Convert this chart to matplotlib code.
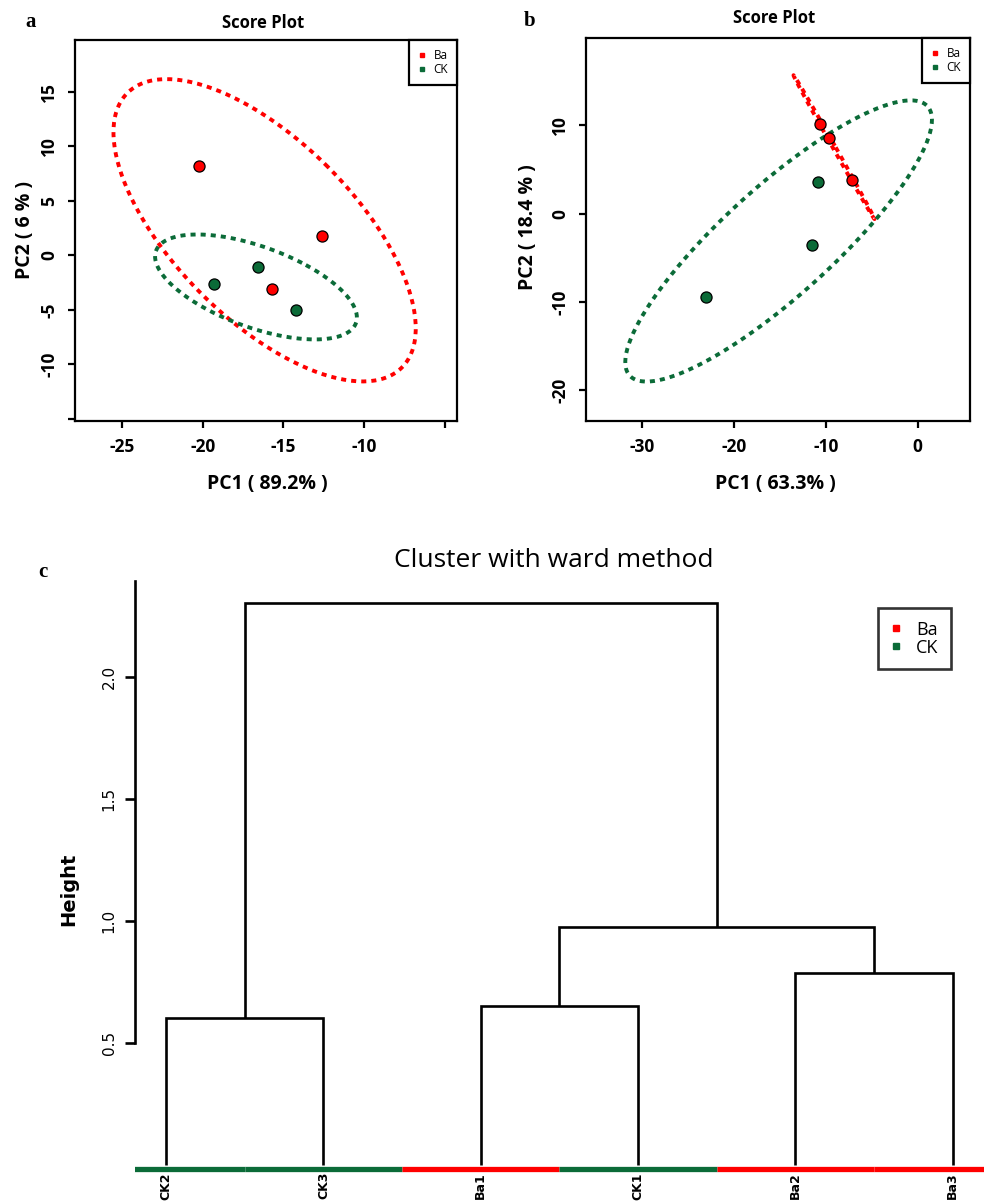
import numpy as np
import matplotlib
matplotlib.use("Agg")
import matplotlib.pyplot as plt
from matplotlib.lines import Line2D

plt.rcParams["font.family"] = ["Open Sans", "DejaVu Sans"]

RED = "#FF0000"
GREEN = "#0B6B38"

# panel a scores
a_ba_x = [-20.2, -12.6, -15.7]
a_ba_y = [8.2, 1.8, -3.1]
a_ck_x = [-19.3, -16.6, -14.2]
a_ck_y = [-2.6, -1.1, -5.0]

# panel b scores
b_ba_x = [-10.6, -9.6, -7.1]
b_ba_y = [10.2, 8.6, 3.8]
b_ck_x = [-10.9, -11.5, -23.0]
b_ck_y = [3.6, -3.5, -9.4]

# panel c dendrogram
leaf_labels = ["CK2", "CK3", "Ba1", "CK1", "Ba2", "Ba3"]
leaf_groups = ["CK", "CK", "Ba", "CK", "Ba", "Ba"]
merge_pairs = [(0, 1), (2, 3), (4, 5), (7, 8), (6, 9)]
merge_heights = [0.60, 0.648, 0.785, 0.973, 2.30]

W, H = 984, 1203
fig = plt.figure(figsize=(W / 100, H / 100), dpi=100)


def px_axes(l, t, r, b):
    return fig.add_axes([l / W, 1 - b / H, (r - l) / W, (b - t) / H])


def px_text(x, y, s, **kw):
    fig.text(x / W, 1 - y / H, s, ha="center", va="center", **kw)


def conf_ellipse(x, y, level=0.95, n=240):
    # same construction as R's ellipse() package
    x = np.asarray(x, float)
    y = np.asarray(y, float)
    cov = np.cov(x, y)
    t = np.sqrt(-2 * np.log(1 - level))
    sx, sy = np.sqrt(np.diag(cov))
    d = np.arccos(cov[0, 1] / (sx * sy))
    a = np.linspace(0, 2 * np.pi, n)
    return x.mean() + t * sx * np.cos(a + d / 2), y.mean() + t * sy * np.cos(a - d / 2)


def score_panel(ax, ba_x, ba_y, ck_x, ck_y, xlim, ylim, xticks, yticks, xhide, yhide):
    for xs, ys, col in ((ba_x, ba_y, RED), (ck_x, ck_y, GREEN)):
        ex, ey = conf_ellipse(xs, ys)
        ax.plot(ex, ey, color=col, lw=2.8, ls=(0, (1.3, 1.3)), dash_capstyle="butt")
    for xs, ys, col in ((ba_x, ba_y, RED), (ck_x, ck_y, GREEN)):
        ax.scatter(xs, ys, s=64, c=col, edgecolors="black", linewidths=0.9, zorder=3)
    ax.set_xlim(xlim)
    ax.set_ylim(ylim)
    ax.set_xticks(xticks)
    ax.set_xticklabels(["" if v in xhide else str(v) for v in xticks])
    ax.set_yticks(yticks)
    ax.set_yticklabels(["" if v in yhide else str(v) for v in yticks])
    for s in ax.spines.values():
        s.set_linewidth(1.6)
    ax.tick_params(direction="out", length=5, width=1.6, labelsize=12.5, pad=7)
    plt.setp(ax.get_xticklabels(), fontweight="bold")
    plt.setp(ax.get_yticklabels(), fontweight="bold", rotation=90, va="center")
    handles = [Line2D([], [], marker="s", ls="", color=RED, markersize=3.5),
               Line2D([], [], marker="s", ls="", color=GREEN, markersize=3.5)]
    leg = ax.legend(handles, ["Ba", "CK"], loc="upper right", borderaxespad=0,
                    fancybox=False, edgecolor="black", fontsize=8.5, handlelength=0.6,
                    handletextpad=0.7, borderpad=0.75, labelspacing=0.1)
    leg.get_frame().set_linewidth(1.6)
    leg.get_frame().set_alpha(1)


ax_a = px_axes(75, 40, 457, 421)
score_panel(ax_a, a_ba_x, a_ba_y, a_ck_x, a_ck_y, (-27.9, -4.26), (-15.2, 19.76),
            [-25, -20, -15, -10, -5], [-15, -10, -5, 0, 5, 10, 15], [-5], [-15])

ax_b = px_axes(586, 38, 970, 421)
score_panel(ax_b, b_ba_x, b_ba_y, b_ck_x, b_ck_y, (-36.1, 5.7), (-23.5, 19.9),
            [-30, -20, -10, 0], [-20, -10, 0, 10], [], [])

px_text(31, 22, "a", family="Liberation Serif", fontweight="bold", fontsize=15)
px_text(530, 21, "b", family="Liberation Serif", fontweight="bold", fontsize=15)
px_text(43, 572, "c", family="Liberation Serif", fontweight="bold", fontsize=15)

px_text(263, 23, "Score Plot", fontsize=12, fontweight="bold")
px_text(774, 18, "Score Plot", fontsize=12, fontweight="bold")
px_text(267, 484, "PC1 ( 89.2% )", fontsize=14, fontweight="bold")
px_text(775, 484, "PC1 ( 63.3% )", fontsize=14, fontweight="bold")
px_text(25, 230, "PC2 ( 6 % )", fontsize=14, fontweight="bold", rotation=90)
px_text(528, 227, "PC2 ( 18.4 % )", fontsize=14, fontweight="bold", rotation=90)

# dendrogram
ax_c = px_axes(134.7, 581, 984, 1187)
n = len(leaf_labels)
node_x = list(range(1, n + 1))
node_y = [0.0] * n
for (i, j), h in zip(merge_pairs, merge_heights):
    ax_c.plot([node_x[i], node_x[i], node_x[j], node_x[j]],
              [node_y[i], h, h, node_y[j]], color="black", lw=1.9,
              solid_capstyle="butt", solid_joinstyle="miter")
    node_x.append((node_x[i] + node_x[j]) / 2)
    node_y.append(h)

group_col = {"Ba": RED, "CK": GREEN}
for k, g in enumerate(leaf_groups):
    ax_c.hlines(-0.018, k + 0.5, k + 1.5, color=group_col[g], lw=3.8)
    ax_c.text(k + 1, -0.031, leaf_labels[k], rotation=90, ha="center", va="top",
              fontsize=9, fontweight="bold", family="DejaVu Sans", clip_on=False)

ax_c.set_xlim(0.8, 6.2)
ax_c.set_ylim(-0.092, 2.392)
for s in ("top", "right", "bottom"):
    ax_c.spines[s].set_visible(False)
ax_c.spines["left"].set_linewidth(1.9)
ax_c.spines["left"].set_bounds(0.5, 2.392)
ax_c.set_xticks([])
ax_c.set_yticks([0.5, 1.0, 1.5, 2.0])
ax_c.set_yticklabels(["0.5", "1.0", "1.5", "2.0"])
ax_c.tick_params(axis="y", direction="out", length=7, width=1.9, labelsize=11, pad=6)
plt.setp(ax_c.get_yticklabels(), family="DejaVu Sans", rotation=90, va="center")
ax_c.patch.set_visible(False)

handles = [Line2D([], [], marker="s", ls="", color=RED, markersize=4.5),
           Line2D([], [], marker="s", ls="", color=GREEN, markersize=4.5)]
leg = ax_c.legend(handles, ["Ba", "CK"], loc="upper right",
                  bbox_to_anchor=(951 / W, 1 - 608 / H), bbox_transform=fig.transFigure,
                  borderaxespad=0, fancybox=False, edgecolor="black", fontsize=13,
                  handlelength=0.6, handletextpad=0.8, borderpad=0.7, labelspacing=0.0)
leg.get_frame().set_linewidth(1.9)

px_text(553.6, 561, "Cluster with ward method", fontsize=19)
px_text(69, 889, "Height", fontsize=14, fontweight="bold", family="DejaVu Sans", rotation=90)

fig.savefig("out.png", dpi=100)
